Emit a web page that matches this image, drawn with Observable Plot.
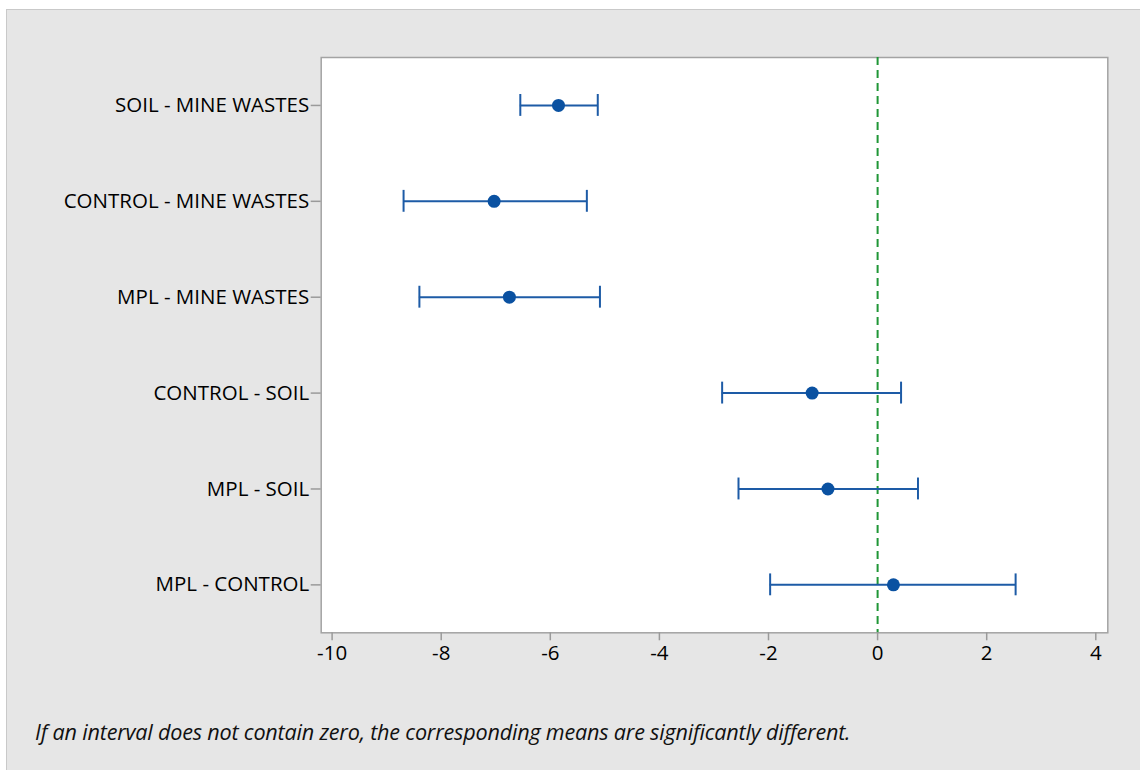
<!DOCTYPE html>
<html>
<head>
<meta charset="utf-8">
<script src="https://cdn.jsdelivr.net/npm/d3@7"></script>
<script src="https://cdn.jsdelivr.net/npm/@observablehq/plot@0.6"></script>
<style>
  html, body { margin: 0; padding: 0; background: #ffffff; width: 1140px; height: 770px; overflow: hidden; }
  #panel { position: absolute; left: 6px; top: 9px; width: 1140px; height: 770px; background: #e6e6e6; border: 1px solid #c9c9c9; box-sizing: border-box; }
  #chart { position: absolute; left: 0; top: 0; }
  #caption { position: absolute; left: 35px; top: 717px; font-family: "Open Sans", sans-serif; font-style: italic; font-size: 21.6px; color: #111; letter-spacing: -0.2px; white-space: nowrap; }
</style>
</head>
<body>
<div id="panel"></div>
<div id="chart"></div>
<div id="caption">If an interval does not contain zero, the corresponding means are significantly different.</div>
<script>
const comparisons = ["SOIL - MINE WASTES", "CONTROL - MINE WASTES", "MPL - MINE WASTES", "CONTROL - SOIL", "MPL - SOIL", "MPL - CONTROL"];
const diffs  = [-5.85, -7.03, -6.75, -1.20, -0.91, 0.29];
const lowers = [-6.55, -8.69, -8.40, -2.85, -2.55, -1.97];
const uppers = [-5.13, -5.33, -5.09, 0.43, 0.74, 2.53];
const xTicks = [-10, -8, -6, -4, -2, 0, 2, 4];

const data = comparisons.map((c, i) => ({comparison: c, diff: diffs[i], lower: lowers[i], upper: uppers[i]}));

const blue = "#1d5ba6";
const chart = Plot.plot({
  width: 1140,
  height: 680,
  marginLeft: 320.7,
  marginRight: 32.7,
  marginTop: 57,
  marginBottom: 47.7,
  style: {background: "transparent", fontFamily: "'Open Sans', sans-serif", fontSize: "20.5px", color: "#000"},
  x: {domain: [-10.2, 4.22], ticks: xTicks},
  y: {domain: comparisons, padding: 0, round: false},
  marks: [
    Plot.frame({fill: "white", stroke: "#a3a3a3", strokeWidth: 1.5}),
    Plot.ruleX([0], {stroke: "#1f9636", strokeWidth: 2, strokeDasharray: "8,5"}),
    Plot.ruleY(data, {y: "comparison", x1: "lower", x2: "upper", stroke: blue, strokeWidth: 2}),
    Plot.tickX(data, {y: "comparison", x: "lower", stroke: blue, strokeWidth: 2, insetTop: 37, insetBottom: 37}),
    Plot.tickX(data, {y: "comparison", x: "upper", stroke: blue, strokeWidth: 2, insetTop: 37, insetBottom: 37}),
    Plot.dot(data, {y: "comparison", x: "diff", r: 6.5, fill: "#0a51a1", stroke: "none"}),
    Plot.axisX({ticks: xTicks, tickFormat: d => String(d), tickSize: 8, tickPadding: 5, stroke: "#9a9a9a", fill: "#000", strokeWidth: 1.5, label: null}),
    Plot.axisY({tickSize: 10, tickPadding: 2, stroke: "#9a9a9a", fill: "#000", strokeWidth: 1.5, label: null})
  ]
});
document.getElementById("chart").appendChild(chart);
</script>
</body>
</html>
